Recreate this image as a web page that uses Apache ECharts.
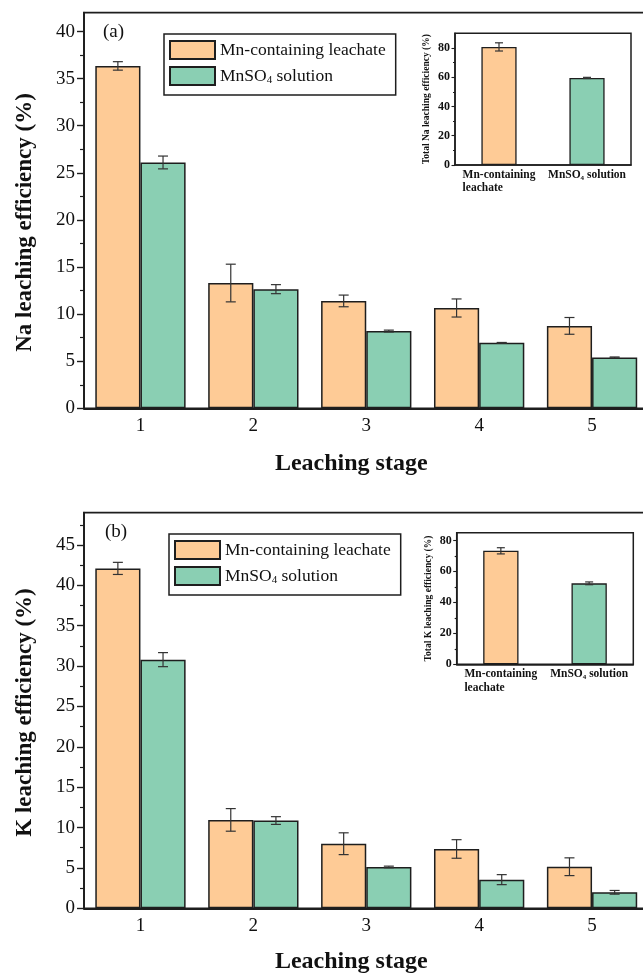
<!DOCTYPE html>
<html><head><meta charset="utf-8">
<script src="https://cdn.jsdelivr.net/npm/echarts@6/dist/echarts.min.js"></script>
<style>html,body{margin:0;padding:0;background:#fff}#c{width:643px;height:973px}</style>
</head><body><div id="c"></div>
<script>
// ---------- data ----------
const stages = ['1', '2', '3', '4', '5'];
const seriesNames = ['Mn-containing leachate', 'MnSO4 solution'];

const naMn = [36.35, 13.3, 11.4, 10.65, 8.75];
const naMnErr = [0.45, 2.0, 0.62, 0.96, 0.89];
const naSO4 = [26.1, 12.65, 8.2, 6.95, 5.4];
const naSO4Err = [0.68, 0.48, 0.1, 0.04, 0.05];

const kMn = [42.1, 10.95, 8.0, 7.35, 5.15];
const kMnErr = [0.75, 1.4, 1.35, 1.15, 1.1];
const kSO4 = [30.8, 10.87, 5.12, 3.55, 1.98];
const kSO4Err = [0.87, 0.48, 0.1, 0.62, 0.23];

const totalCats = ['Mn-containing leachate', 'MnSO4 solution'];
const naTotal = [80.7, 59.5];
const naTotalErr = [2.8, 0.4];
const kTotal = [73.3, 52.3];
const kTotalErr = [2.0, 0.9];

const naTicks = [0, 5, 10, 15, 20, 25, 30, 35, 40];
const naMinor = [2.5, 7.5, 12.5, 17.5, 22.5, 27.5, 32.5, 37.5];
const kTicks = [0, 5, 10, 15, 20, 25, 30, 35, 40, 45];
const kMinor = [2.5, 7.5, 12.5, 17.5, 22.5, 27.5, 32.5, 37.5, 42.5, 47.5];
const insetTicks = [0, 20, 40, 60, 80];
const insetMinor = [10, 30, 50, 70];

// ---------- style ----------
const F = '"Liberation Serif", "Times New Roman", serif';
const ORANGE = '#FECB96';
const GREEN = '#8ACFB3';
const DARK = '#1e1e1e';
const TXT = '#111';

function errRender(off, cap) {
  return function (params, api) {
    const x = api.value(0), lo = api.value(1), hi = api.value(2);
    const bw = api.size([1, 0])[0];
    const p1 = api.coord([x, hi]);
    const p0 = api.coord([x, lo]);
    const cx = p1[0] + bw * off;
    const st = { stroke: '#333', lineWidth: 1.2 };
    return {
      type: 'group', children: [
        { type: 'line', shape: { x1: cx, y1: p1[1], x2: cx, y2: p0[1] }, style: st },
        { type: 'line', shape: { x1: cx - cap, y1: p1[1], x2: cx + cap, y2: p1[1] }, style: st },
        { type: 'line', shape: { x1: cx - cap, y1: p0[1], x2: cx + cap, y2: p0[1] }, style: st }
      ]
    };
  };
}
function errData(vals, errs) { return vals.map((v, i) => [i, v - errs[i], v + errs[i]]); }

function mainX(gi, gap) {
  return {
    gridIndex: gi, type: 'category', data: stages,
    axisLine: { lineStyle: { color: DARK, width: 1.8 } },
    axisTick: { show: false },
    axisLabel: { fontSize: 19, fontFamily: F, color: TXT, margin: 8 },
    name: 'Leaching stage', nameLocation: 'middle', nameGap: gap, nameMoveOverlap: false,
    nameTextStyle: { fontSize: 24, fontWeight: 'bold', fontFamily: F, color: TXT, padding: [0, 30, 0, 0] }
  };
}
function mainY(gi, max, ticks, name, shift) {
  return {
    gridIndex: gi, type: 'value', min: 0, max: max, position: 'left',
    axisLine: { show: true, lineStyle: { color: DARK, width: 1.8 } },
    axisTick: { show: true, customValues: ticks, length: 7, lineStyle: { color: DARK, width: 1.4 } },
    axisLabel: { customValues: ticks, fontSize: 19, fontFamily: F, color: TXT, margin: 9 },
    splitLine: { show: false },
    name: name, nameLocation: 'middle', nameGap: 47, nameMoveOverlap: false,
    nameTextStyle: { fontSize: 23, fontWeight: 'bold', fontFamily: F, color: TXT, padding: [0, shift, 0, 0] }
  };
}
function minorY(gi, max, ticks, len) {
  return {
    gridIndex: gi, type: 'value', min: 0, max: max, position: 'left',
    axisLine: { show: false },
    axisTick: { show: true, customValues: ticks, length: len, lineStyle: { color: DARK, width: 1.2 } },
    axisLabel: { show: false }, splitLine: { show: false }
  };
}
const insetLabelRich = {
  b: { fontSize: 11.5, fontWeight: 'bold', fontFamily: F, color: TXT, align: 'left', lineHeight: 13.5 },
  s: { fontSize: 7, fontWeight: 'bold', fontFamily: F, color: TXT, verticalAlign: 'bottom' }
};
function insetX(gi) {
  return {
    gridIndex: gi, type: 'category', data: totalCats,
    axisLine: { lineStyle: { color: DARK, width: 1.5 } },
    axisTick: { show: false },
    axisLabel: {
      margin: 3, interval: 0,
      formatter: v => v === totalCats[0] ? '{b|Mn-containing}\n{b|leachate}' : '{b|MnSO}{s|4}{b| solution}',
      rich: insetLabelRich
    }
  };
}
function insetY(gi, max, name) {
  return {
    gridIndex: gi, type: 'value', min: 0, max: max, position: 'left',
    axisLine: { show: true, lineStyle: { color: DARK, width: 1.5 } },
    axisTick: { show: true, customValues: insetTicks, length: 3.5, lineStyle: { color: DARK, width: 1.1 } },
    axisLabel: { customValues: insetTicks, fontSize: 12, fontWeight: 'bold', fontFamily: F, color: TXT, margin: 5 },
    splitLine: { show: false },
    name: name, nameLocation: 'middle', nameGap: 23, nameMoveOverlap: false,
    nameTextStyle: { fontSize: 9.5, fontWeight: 'bold', fontFamily: F, color: TXT }
  };
}
function barSeries(name, xi, yi, data, color) {
  return {
    name: name, type: 'bar', xAxisIndex: xi, yAxisIndex: yi, data: data,
    barWidth: '40%', barGap: '0%',
    itemStyle: { color: color, borderColor: DARK, borderWidth: 1.5 }
  };
}
function errSeries(xi, yi, vals, errs, off, cap) {
  return {
    type: 'custom', xAxisIndex: xi, yAxisIndex: yi, z: 5,
    renderItem: errRender(off, cap), data: errData(vals, errs),
    encode: { x: 0, y: [1, 2] }, silent: true
  };
}
function legendCfg(left, top) {
  return {
    left: left, top: top, orient: 'vertical', data: seriesNames,
    itemWidth: 45, itemHeight: 18, itemGap: 6, icon: 'rect',
    padding: [6, 10, 9, 5], borderColor: DARK, borderWidth: 1.5,
    formatter: n => n === 'MnSO4 solution' ? 'MnSO{s|4} solution' : n,
    textStyle: {
      fontSize: 17.5, fontFamily: F, color: TXT, lineHeight: 20,
      rich: { s: { fontSize: 11, fontFamily: F, color: TXT, verticalAlign: 'bottom' } }
    }
  };
}
const gridStyle = { show: true, borderColor: DARK, borderWidth: 1.8, backgroundColor: 'transparent', outerBoundsMode: 'none' };

const option = {
  animation: false,
  backgroundColor: '#fff',
  title: [
    { text: '(a)', left: 103, top: 23, padding: 0, textStyle: { fontSize: 19, fontWeight: 'normal', fontFamily: F, color: TXT } },
    { text: '(b)', left: 105, top: 523, padding: 0, textStyle: { fontSize: 19, fontWeight: 'normal', fontFamily: F, color: TXT } }
  ],
  legend: [legendCfg(164, 34), legendCfg(169, 534)],
  grid: [
    Object.assign({ left: 84, top: 12.7, width: 564.5, height: 395.6 }, gridStyle),
    Object.assign({ left: 84, top: 512.7, width: 564.5, height: 395.6 }, gridStyle),
    Object.assign({ left: 455, top: 33.3, width: 176, height: 131.7 }, gridStyle, { borderWidth: 1.5 }),
    Object.assign({ left: 456.7, top: 532.7, width: 176.6, height: 131.6 }, gridStyle, { borderWidth: 1.5 })
  ],
  xAxis: [mainX(0, 43), mainX(1, 41), insetX(2), insetX(3)],
  yAxis: [
    mainY(0, 42, naTicks, 'Na leaching efficiency (%)', 24),
    mainY(1, 49, kTicks, 'K leaching efficiency (%)', 4),
    insetY(2, 90, 'Total Na leaching efficiency (%)'),
    insetY(3, 85, 'Total K leaching efficiency (%)'),
    minorY(0, 42, naMinor, 4),
    minorY(1, 49, kMinor, 4),
    minorY(2, 90, insetMinor, 2),
    minorY(3, 85, insetMinor, 2)
  ],
  series: [
    barSeries(seriesNames[0], 0, 0, naMn, ORANGE),
    barSeries(seriesNames[1], 0, 0, naSO4, GREEN),
    barSeries(seriesNames[0], 1, 1, kMn, ORANGE),
    barSeries(seriesNames[1], 1, 1, kSO4, GREEN),
    {
      type: 'bar', xAxisIndex: 2, yAxisIndex: 2, barWidth: '40%',
      data: naTotal.map((v, i) => ({ value: v, itemStyle: { color: i === 0 ? ORANGE : GREEN } })),
      itemStyle: { borderColor: DARK, borderWidth: 1.3 }
    },
    {
      type: 'bar', xAxisIndex: 3, yAxisIndex: 3, barWidth: '40%',
      data: kTotal.map((v, i) => ({ value: v, itemStyle: { color: i === 0 ? ORANGE : GREEN } })),
      itemStyle: { borderColor: DARK, borderWidth: 1.3 }
    },
    errSeries(0, 0, naMn, naMnErr, -0.2, 5),
    errSeries(0, 0, naSO4, naSO4Err, 0.2, 5),
    errSeries(1, 1, kMn, kMnErr, -0.2, 5),
    errSeries(1, 1, kSO4, kSO4Err, 0.2, 5),
    errSeries(2, 2, naTotal, naTotalErr, 0, 4),
    errSeries(3, 3, kTotal, kTotalErr, 0, 4)
  ]
};
const chart = echarts.init(document.getElementById('c'), null, { renderer: 'canvas' });
chart.setOption(option);
</script>
</body></html>
